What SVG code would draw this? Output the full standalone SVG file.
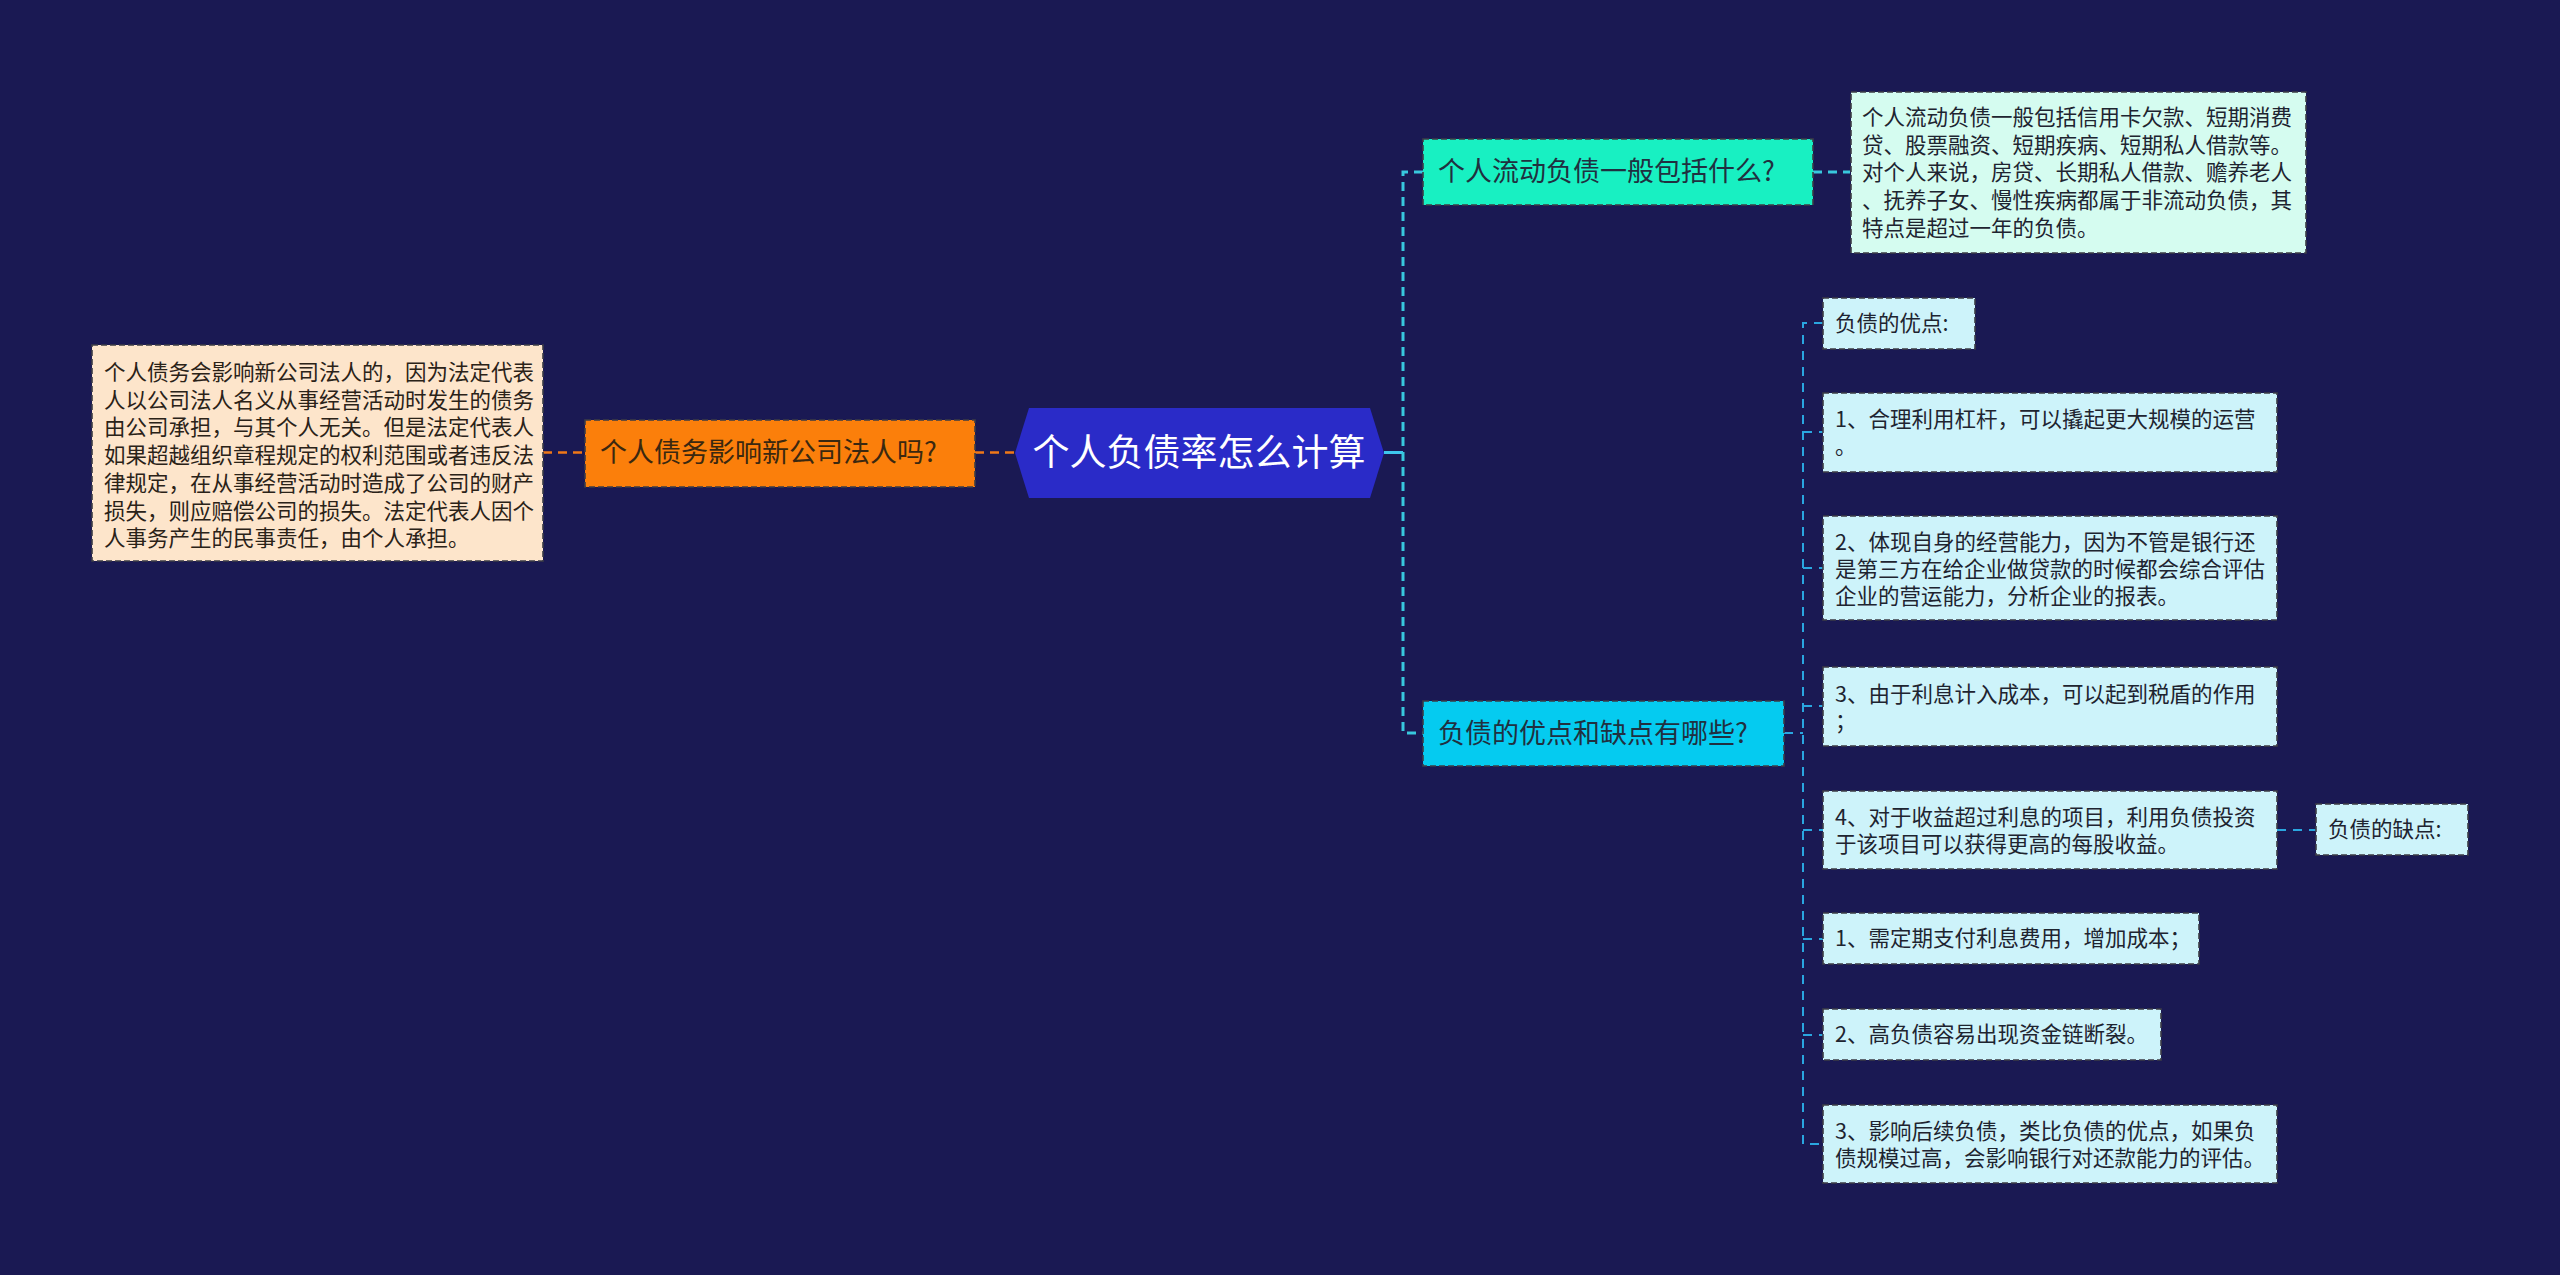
<svg xmlns="http://www.w3.org/2000/svg" width="2560" height="1275" viewBox="0 0 2560 1275">
<style>
text{font-family:"Noto Sans CJK SC","Noto Sans",sans-serif;}
.box{stroke:#3c3c46;stroke-width:1.6;stroke-dasharray:6 3;}
.t21{font-size:21.5px;fill:#1e2430;}
.t27{font-size:27px;fill:#203040;}
.c-or{fill:none;stroke:#f07818;stroke-width:2.5;stroke-dasharray:9 6;}
.c-tr{fill:none;stroke:#38c8de;stroke-width:3;stroke-dasharray:9 6;}
.c-sub{fill:none;stroke:#2aa6e0;stroke-width:2;stroke-dasharray:9 7;}
</style>
<rect x="0" y="0" width="2560" height="1275" fill="#1a1953"/>
<g id="connectors">
<path class="c-or" d="M543,452.5 H584"/>
<path class="c-or" d="M975,452.5 H1015"/>
<path d="M1384,452.5 H1403" fill="none" stroke="#3ec6ee" stroke-width="3"/>
<path class="c-tr" d="M1423,172 H1403 V733 H1423"/>
<path class="c-tr" d="M1813,172 H1850"/>
<path class="c-sub" d="M1784,733 H1803"/>
<path class="c-sub" d="M1823,323 H1803 V1144 H1823"/>
<path class="c-sub" d="M1803,432 H1823 M1803,568 H1823 M1803,706 H1823 M1803,830 H1823 M1803,939 H1823 M1803,1035 H1823"/>
<path class="c-sub" d="M2277,830 H2316"/>
</g>
<g id="root">
<polygon points="1015,453 1029,408 1370,408 1384,453 1370,498 1029,498" fill="#2a2bc8"/>
<text x="1199" y="466" text-anchor="middle" font-size="37" fill="#ffffff">个人负债率怎么计算</text>
</g>
<g id="left-branch">
<rect class="box" x="585" y="420" width="390" height="67" fill="#fb7f0b"/>
<text x="600" y="462" class="t27" fill="#3a2810" style="fill:#3a2810">个人债务影响新公司法人吗?</text>
</g>
<g id="left-leaf">
<rect class="box" x="92" y="345" width="451" height="216" fill="#fde5cb"/>
<text class="t21" style="fill:#2a2218">
<tspan x="104" y="380">个人债务会影响新公司法人的，因为法定代表</tspan>
<tspan x="104" y="407.7">人以公司法人名义从事经营活动时发生的债务</tspan>
<tspan x="104" y="435.4">由公司承担，与其个人无关。但是法定代表人</tspan>
<tspan x="104" y="463.1">如果超越组织章程规定的权利范围或者违反法</tspan>
<tspan x="104" y="490.8">律规定，在从事经营活动时造成了公司的财产</tspan>
<tspan x="104" y="518.5">损失，则应赔偿公司的损失。法定代表人因个</tspan>
<tspan x="104" y="546.2">人事务产生的民事责任，由个人承担。</tspan>
</text>
</g>
<g id="branch1">
<rect class="box" x="1423" y="139" width="390" height="66" fill="#18f0c2"/>
<text x="1438" y="181" class="t27">个人流动负债一般包括什么?</text>
</g>
<g id="leaf1">
<rect class="box" x="1851" y="92" width="455" height="161" fill="#d5fcf0"/>
<text class="t21">
<tspan x="1862" y="125">个人流动负债一般包括信用卡欠款、短期消费</tspan>
<tspan x="1862" y="152.7">贷、股票融资、短期疾病、短期私人借款等。</tspan>
<tspan x="1862" y="180.4">对个人来说，房贷、长期私人借款、赡养老人</tspan>
<tspan x="1862" y="208.1">、抚养子女、慢性疾病都属于非流动负债，其</tspan>
<tspan x="1862" y="235.8">特点是超过一年的负债。</tspan>
</text>
</g>
<g id="branch2">
<rect class="box" x="1423" y="701" width="361" height="65" fill="#05cbf0"/>
<text x="1438" y="743" class="t27">负债的优点和缺点有哪些?</text>
</g>
<g id="pros">
<rect class="box" x="1823" y="298" width="152" height="51" fill="#cdf3fa"/>
<text x="1835" y="331" class="t21">负债的优点:</text>
</g>
<g id="pro1">
<rect class="box" x="1823" y="393" width="454" height="79" fill="#cdf3fa"/>
<text class="t21"><tspan x="1835" y="427">1、合理利用杠杆，可以撬起更大规模的运营</tspan><tspan x="1835" y="454">。</tspan></text>
</g>
<g id="pro2">
<rect class="box" x="1823" y="516" width="454" height="104" fill="#cdf3fa"/>
<text class="t21"><tspan x="1835" y="550">2、体现自身的经营能力，因为不管是银行还</tspan><tspan x="1835" y="577">是第三方在给企业做贷款的时候都会综合评估</tspan><tspan x="1835" y="604">企业的营运能力，分析企业的报表。</tspan></text>
</g>
<g id="pro3">
<rect class="box" x="1823" y="667" width="454" height="79" fill="#cdf3fa"/>
<text class="t21"><tspan x="1835" y="702">3、由于利息计入成本，可以起到税盾的作用</tspan><tspan x="1835" y="729">；</tspan></text>
</g>
<g id="pro4">
<rect class="box" x="1823" y="791" width="454" height="78" fill="#cdf3fa"/>
<text class="t21"><tspan x="1835" y="825">4、对于收益超过利息的项目，利用负债投资</tspan><tspan x="1835" y="852">于该项目可以获得更高的每股收益。</tspan></text>
</g>
<g id="cons">
<rect class="box" x="2316" y="804" width="152" height="51" fill="#cdf3fa"/>
<text x="2328" y="837" class="t21">负债的缺点:</text>
</g>
<g id="con1">
<rect class="box" x="1823" y="913" width="376" height="51" fill="#cdf3fa"/>
<text x="1835" y="946" class="t21">1、需定期支付利息费用，增加成本；</text>
</g>
<g id="con2">
<rect class="box" x="1823" y="1009" width="338" height="51" fill="#cdf3fa"/>
<text x="1835" y="1042" class="t21">2、高负债容易出现资金链断裂。</text>
</g>
<g id="con3">
<rect class="box" x="1823" y="1105" width="454" height="78" fill="#cdf3fa"/>
<text class="t21"><tspan x="1835" y="1139">3、影响后续负债，类比负债的优点，如果负</tspan><tspan x="1835" y="1166">债规模过高，会影响银行对还款能力的评估。</tspan></text>
</g>
</svg>
